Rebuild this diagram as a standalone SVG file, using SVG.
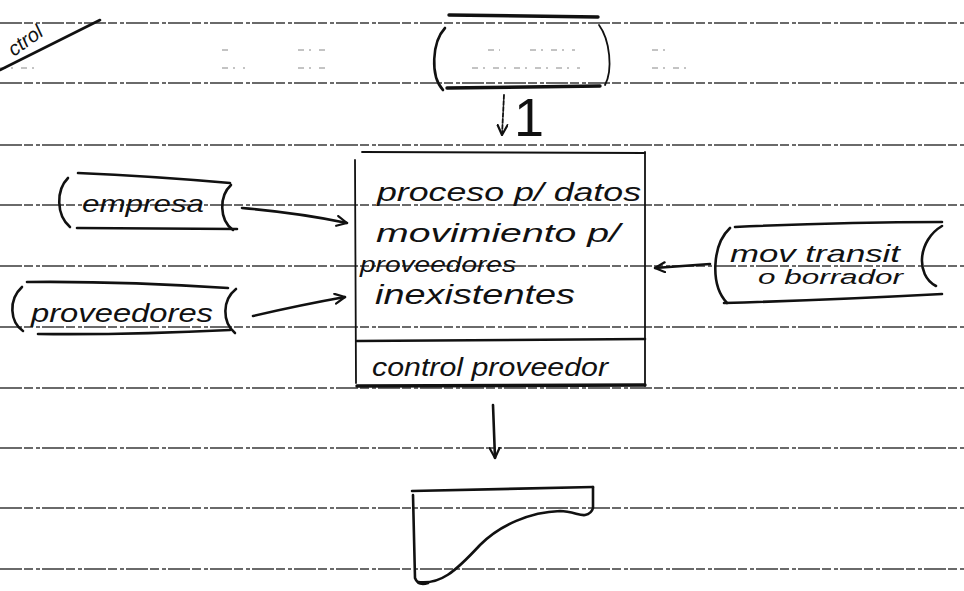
<svg xmlns="http://www.w3.org/2000/svg" width="964" height="591" viewBox="0 0 964 591">
<defs>
<style>
.rule{stroke:#3a3a3a;stroke-width:1.3;stroke-dasharray:22 2 9 3 4 2;fill:none}
.faint{stroke:#888;stroke-width:1;stroke-dasharray:6 5 2 8;fill:none}
.ink{stroke:#111;stroke-width:2.6;fill:none;stroke-linecap:round;stroke-linejoin:round}
.thin{stroke:#111;stroke-width:1.8;fill:none;stroke-linecap:round}
.thick{stroke:#111;stroke-width:3.4;fill:none;stroke-linecap:round}
.hw{font-family:"Liberation Sans","DejaVu Sans",sans-serif;fill:#111;font-style:italic}
.num{font-family:"Liberation Sans","DejaVu Sans",sans-serif;fill:#111;font-style:normal}
</style>
<marker id="ah" viewBox="0 0 12 12" refX="11" refY="6" markerWidth="12" markerHeight="12" markerUnits="userSpaceOnUse" orient="auto">
<path d="M1,1 L11,6 L1,11" fill="none" stroke="#111" stroke-width="2.2" stroke-linecap="round" stroke-linejoin="round"/>
</marker>
</defs>
<rect width="964" height="591" fill="#fff"/>
<g id="paper">
<line class="rule" x1="0" y1="23" x2="964" y2="23"/>
<line class="rule" x1="0" y1="83" x2="964" y2="83"/>
<line class="rule" x1="0" y1="145" x2="964" y2="145"/>
<line class="rule" x1="0" y1="205" x2="964" y2="205"/>
<line class="rule" x1="0" y1="266" x2="964" y2="266"/>
<line class="rule" x1="0" y1="327" x2="964" y2="327"/>
<line class="rule" x1="0" y1="388" x2="964" y2="388"/>
<line class="rule" x1="0" y1="448" x2="964" y2="448"/>
<line class="rule" x1="0" y1="508" x2="964" y2="508"/>
<line class="rule" x1="0" y1="569" x2="964" y2="569"/>
<path class="faint" d="M222,50 H232 M298,50 H330 M488,50 H500 M530,50 H575 M652,50 H670 M0,68 H35 M222,68 H245 M298,68 H330 M472,68 H580 M652,68 H690"/>
</g>
<g id="corner">
<path class="ink" d="M0,70 L100,20"/>
<text class="hw" font-size="20" transform="translate(14,57) rotate(-36)">ctrol</text>
</g>
<g id="terminal-top">
<path class="thick" d="M449,15 L598,17"/>
<path class="ink" d="M445,28 C432,42 430,76 443,90"/>
<path class="thick" d="M447,88 L600,86"/>
<path class="thin" d="M599,25 C610,40 613,70 605,85"/>
</g>
<g id="process">
<path class="thin" d="M362,152 L645,153"/>
<path class="thin" d="M355,160 L356,383"/>
<path class="thin" d="M645,152 L645,386"/>
<path class="ink" d="M357,341 L645,339"/>
<path class="thick" d="M357,386 L645,385"/>
<text class="hw" x="377" y="201" font-size="26" textLength="264" lengthAdjust="spacingAndGlyphs">proceso p/ datos</text>
<text class="hw" x="376" y="242" font-size="26" textLength="244" lengthAdjust="spacingAndGlyphs">movimiento p/</text>
<text class="hw" x="360" y="272" font-size="22" textLength="156" lengthAdjust="spacingAndGlyphs">proveedores</text>
<text class="hw" x="375" y="304" font-size="28" textLength="200" lengthAdjust="spacingAndGlyphs">inexistentes</text>
<text class="hw" x="372" y="376" font-size="26" textLength="236" lengthAdjust="spacingAndGlyphs">control proveedor</text>
</g>
<g id="empresa">
<path class="ink" d="M78,173 Q150,176 230,183"/>
<path class="ink" d="M68,178 C56,190 56,215 70,227"/>
<path class="ink" d="M231,185 C219,196 219,220 233,230"/>
<path class="ink" d="M77,228 L237,229"/>
<text class="hw" x="82" y="212" font-size="24" textLength="122" lengthAdjust="spacingAndGlyphs">empresa</text>
</g>
<g id="proveedores">
<path class="ink" d="M27,282 Q120,281 228,288"/>
<path class="ink" d="M22,287 C8,300 10,322 23,331"/>
<path class="ink" d="M236,289 C222,300 222,322 235,333"/>
<path class="ink" d="M38,334 Q130,335 230,330"/>
<text class="hw" x="31" y="322" font-size="26" textLength="182" lengthAdjust="spacingAndGlyphs">proveedores</text>
</g>
<g id="mov-transit">
<path class="ink" d="M735,227 Q840,222 942,222"/>
<path class="ink" d="M730,228 C712,245 710,285 727,303"/>
<path class="ink" d="M942,226 C918,240 915,275 936,286"/>
<path class="ink" d="M724,303 Q830,300 942,294"/>
<text class="hw" x="730" y="262" font-size="24" textLength="170" lengthAdjust="spacingAndGlyphs">mov transit</text>
<text class="hw" x="758" y="284" font-size="20" textLength="145" lengthAdjust="spacingAndGlyphs">o borrador</text>
</g>
<g id="document">
<path class="ink" d="M412,491 L593,487"/>
<path class="ink" d="M413,495 L415,578 Q418,586 428,583"/>
<path class="ink" d="M418,582 C440,585 455,572 480,545 C500,525 530,512 560,511 C572,511 580,516 585,515 C590,514 592,512 593,508 L593,487"/>
</g>
<g id="connectors">
<path class="thin" d="M504,95 L502,135" stroke-dasharray="4 2" marker-end="url(#ah)"/>
<text class="num" x="514" y="136" font-size="54">1</text>
<path class="ink" d="M242,208 Q300,213 347,223" marker-end="url(#ah)"/>
<path class="ink" d="M253,316 Q300,305 345,297" marker-end="url(#ah)"/>
<path class="ink" d="M710,264 L655,268" marker-end="url(#ah)"/>
<path class="ink" d="M493,405 L495,458" marker-end="url(#ah)"/>
</g>
</svg>
